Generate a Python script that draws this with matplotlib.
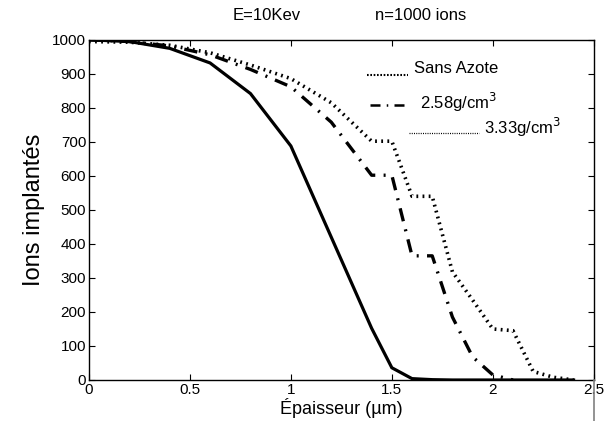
import numpy as np
import matplotlib.pyplot as plt
from matplotlib.lines import Line2D

plt.rcParams['font.family'] = ['Liberation Sans', 'DejaVu Sans']

# Datos
x_solide = [0, 0.2, 0.4, 0.6, 0.8, 1.0, 1.2, 1.4, 1.5, 1.6, 1.7, 1.8, 2.0, 2.2, 2.4]
y_solide = [1000, 995, 975, 932, 842, 688, 420, 152, 36, 4, 1, 0, 0, 0, 0]

x_pointille = [0, 0.2, 0.4, 0.6, 0.8, 1.0, 1.2, 1.4, 1.5, 1.6, 1.7, 1.8, 1.9, 2.0, 2.1, 2.2, 2.3, 2.4]
y_pointille = [995, 993, 984, 962, 926, 886, 815, 702, 702, 540, 540, 318, 235, 150, 145, 25, 8, 0]

x_tiret = [0, 0.2, 0.4, 0.6, 0.8, 1.0, 1.2, 1.4, 1.5, 1.6, 1.7, 1.8, 1.9, 2.0, 2.1]
y_tiret = [1000, 995, 982, 956, 913, 862, 758, 602, 602, 365, 365, 185, 68, 15, 0]

legende = ['Sans Azote', '2.58g/cm$^3$', '3.33g/cm$^3$']

fig = plt.figure(figsize=(6.09, 4.21), dpi=100)
ax = fig.add_axes([0.146, 0.0974, 0.829, 0.808])

ax.plot(x_solide, y_solide, color='black', lw=2.3, solid_joinstyle='miter')
ax.plot(x_pointille, y_pointille, color='black', lw=2.6, linestyle=(0, (0.5, 1.2)),
        dash_capstyle='butt')
ax.plot(x_tiret, y_tiret, color='black', lw=2.4, linestyle=(0, (4, 2.5, 0.6, 2.5)),
        dash_capstyle='butt')

# Legende faite a la main
kw = dict(fontsize=12, va='center')
ax.plot([1.375, 1.58], [896, 896], color='black', lw=1.5, linestyle=(0, (0.8, 0.8)),
        dash_capstyle='butt')
ax.text(1.61, 916, legende[0], **kw)
ax.plot([1.39, 1.58], [808, 808], color='black', lw=1.8, linestyle=(0, (4, 2.5, 0.6, 2.5)),
        dash_capstyle='butt')
ax.text(1.64, 816, legende[1], **kw)
ax.plot([1.585, 1.93], [725, 725], color='black', lw=0.9, linestyle=(0, (0.8, 1.0)),
        dash_capstyle='butt')
ax.text(1.955, 741, legende[2], **kw)

ax.set_xlim(0, 2.5)
ax.set_ylim(0, 1000)
ax.set_xticks([0, 0.5, 1, 1.5, 2, 2.5])
ax.set_xticklabels(['0', '0.5', '1', '1.5', '2', '2.5'])
ax.set_yticks(np.arange(0, 1001, 100))
ax.tick_params(direction='in', length=4, width=0.8, top=True, right=True,
               labelsize=11, pad=2)
for s in ax.spines.values():
    s.set_linewidth(1.0)

ax.set_xlabel('Épaisseur (µm)', fontsize=13, labelpad=1)
ax.set_ylabel('Ions implantés', fontsize=17, labelpad=5)

fig.text(0.438, 0.963, 'E=10Kev', fontsize=12, ha='center', va='center')
fig.text(0.69, 0.963, 'n=1000 ions', fontsize=12, ha='center', va='center')

fig.add_artist(Line2D([0.975, 0.975], [0.0, 0.0974], color='gray', lw=1.2,
                      transform=fig.transFigure))

fig.savefig('out.png', dpi=100)
